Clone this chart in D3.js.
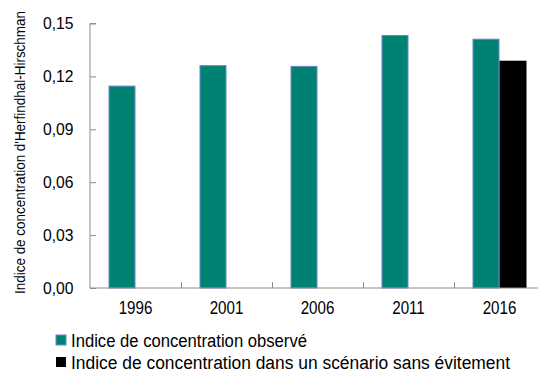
<!DOCTYPE html>
<html><head><meta charset="utf-8">
<script src="https://cdn.jsdelivr.net/npm/d3@7/dist/d3.min.js"></script>
<style>
html,body{margin:0;padding:0;background:#fff;}
text{font-family:"Liberation Sans",Arial,sans-serif;fill:#000;}
</style></head>
<body><svg id="c" width="538" height="371"></svg>
<script>
const years = ["1996","2001","2006","2011","2016"];
const observed = [0.1145, 0.1261, 0.1257, 0.1432, 0.1411];
const scenario = [null, null, null, null, 0.1289];
const seriesNames = ["Indice de concentration observé","Indice de concentration dans un scénario sans évitement"];
const yTicks = [0, 0.03, 0.06, 0.09, 0.12, 0.15];
const yTitle = "Indice de concentration d'Herfindhal-Hirschman";

const svg = d3.select("#c");
const mLeft = 90, mRight = 545, mTop = 23.5, mBottom = 288;
const x = d3.scaleBand().domain(years).range([mLeft, mRight]).paddingInner(0).paddingOuter(0);
const xs = d3.scaleBand().domain(["obs","scn"]).range([0, x.bandwidth()]).paddingInner(0).paddingOuter(0.685);
const y = d3.scaleLinear().domain([0, 0.15]).range([mBottom, mTop]);
const fmt = d => d3.format(".2f")(d).replace(".", ",");

const axisColor = "#8c8c8c";
// y axis
const ya = svg.append("g").attr("transform", `translate(${mLeft},0)`)
  .call(d3.axisRight(y).tickValues(yTicks).tickSize(6).tickFormat(""));
ya.selectAll("path,line").attr("stroke", axisColor);
ya.select(".domain").attr("d", `M6,${mTop}H0V${mBottom}`);
svg.append("g").selectAll("text").data(yTicks).join("text")
  .attr("transform", d => `translate(73.5,${y(d)}) scale(0.98,1)`).attr("dy", "0.35em")
  .attr("text-anchor", "end").style("font-size", "16px").text(fmt);

// bars
const data = years.map((yr, i) => ({yr, obs: observed[i], scn: scenario[i]}));
const g = svg.append("g");
g.selectAll("rect.obs").data(data).join("rect").attr("class","obs")
  .attr("x", d => x(d.yr) + xs("obs") + 0.5).attr("width", xs.bandwidth() - 1)
  .attr("y", d => y(d.obs)).attr("height", d => y(0) - y(d.obs))
  .attr("fill", "#008272").attr("stroke", "#6b86cf").attr("stroke-width", 1);
g.selectAll("rect.scn").data(data.filter(d => d.scn != null)).join("rect").attr("class","scn")
  .attr("x", d => x(d.yr) + xs("scn")).attr("width", xs.bandwidth())
  .attr("y", d => y(d.scn)).attr("height", d => y(0) - y(d.scn))
  .attr("fill", "#000");

// x axis
const xa = svg.append("g").attr("transform", `translate(0,${mBottom})`);
xa.append("line").attr("x1", mLeft).attr("x2", mRight).attr("stroke", axisColor);
xa.selectAll("line.t").data(years.slice(1)).join("line").attr("class","t")
  .attr("x1", d => Math.round(x(d)) + 0.5).attr("x2", d => Math.round(x(d)) + 0.5)
  .attr("y1", 0).attr("y2", -6).attr("stroke", axisColor);
xa.selectAll("text").data(years).join("text")
  .attr("transform", d => `translate(${x(d) + x.bandwidth() / 2},25.5) scale(0.82,1)`)
  .attr("text-anchor", "middle").style("font-size", "18.5px").text(d => d);

// y title
svg.append("text").attr("transform", `translate(25,152.5) rotate(-90)`)
  .attr("text-anchor", "middle").style("font-size", "15.5px")
  .attr("textLength", 283).attr("lengthAdjust", "spacingAndGlyphs").text(yTitle);

// legend
const leg = svg.append("g");
const legColors = [["#008272","#6b86cf"],["#000","none"]];
const legBase = [347, 369];
const legLen = [236, 439];
seriesNames.forEach((n, i) => {
  leg.append("rect").attr("x", 56).attr("y", legBase[i] - 12).attr("width", 10).attr("height", 10)
    .attr("fill", legColors[i][0]).attr("stroke", legColors[i][1]);
  leg.append("text").attr("x", 71).attr("y", legBase[i])
    .attr("textLength", legLen[i]).attr("lengthAdjust", "spacingAndGlyphs")
    .style("font-size", "18px").text(n);
});
</script></body></html>
